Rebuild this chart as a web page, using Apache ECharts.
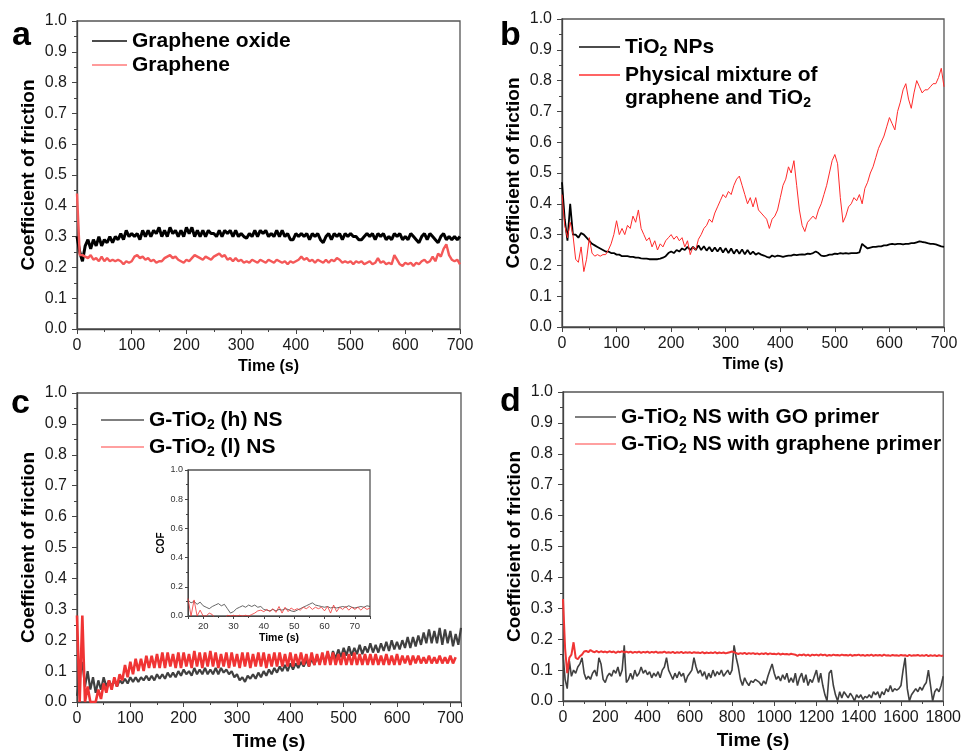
<!DOCTYPE html>
<html>
<head>
<meta charset="utf-8">
<script src="https://cdn.jsdelivr.net/npm/echarts@6/dist/echarts.min.js"></script>
<style>
html, body { margin: 0; padding: 0; background: #fff; }
#chart { width: 964px; height: 753px; }
</style>
</head>
<body>
<div id="chart"></div>
<script>
// panel a: one reading every 5 s, 0-700 s
const stepA = 5;
const grapheneOxideA = [
  0.30, 0.25, 0.22, 0.27, 0.29, 0.26, 0.29, 0.27, 0.30, 0.27,
  0.29, 0.28, 0.30, 0.28, 0.30, 0.29, 0.31, 0.29, 0.32, 0.30,
  0.31, 0.30, 0.31, 0.29, 0.32, 0.30, 0.32, 0.30, 0.32, 0.31,
  0.33, 0.30, 0.32, 0.30, 0.33, 0.31, 0.32, 0.30, 0.32, 0.30,
  0.33, 0.31, 0.33, 0.30, 0.32, 0.30, 0.32, 0.30, 0.32, 0.31,
  0.31, 0.30, 0.32, 0.30, 0.32, 0.31, 0.32, 0.30, 0.32, 0.30,
  0.31, 0.30, 0.295, 0.31, 0.30, 0.32, 0.30, 0.32, 0.31, 0.32,
  0.30, 0.31, 0.30, 0.32, 0.30, 0.32, 0.30, 0.31, 0.29, 0.29,
  0.31, 0.30, 0.31, 0.30, 0.31, 0.29, 0.31, 0.30, 0.31, 0.29,
  0.28, 0.30, 0.31, 0.29, 0.31, 0.30, 0.31, 0.29, 0.31, 0.30,
  0.31, 0.30, 0.30, 0.29, 0.29, 0.30, 0.31, 0.30, 0.31, 0.29,
  0.31, 0.30, 0.31, 0.29, 0.30, 0.29, 0.31, 0.30, 0.31, 0.29,
  0.30, 0.29, 0.31, 0.30, 0.29, 0.28, 0.30, 0.31, 0.29, 0.31,
  0.30, 0.29, 0.28, 0.30, 0.31, 0.29, 0.30, 0.29, 0.30, 0.29,
  0.30
];
const grapheneA = [
  0.44, 0.24, 0.24, 0.235, 0.23, 0.24, 0.225, 0.23, 0.22, 0.235,
  0.22, 0.23, 0.22, 0.225, 0.22, 0.225, 0.22, 0.21, 0.22, 0.215,
  0.22, 0.235, 0.24, 0.23, 0.235, 0.225, 0.23, 0.22, 0.225, 0.215,
  0.22, 0.22, 0.23, 0.235, 0.24, 0.23, 0.235, 0.225, 0.22, 0.215,
  0.225, 0.22, 0.23, 0.24, 0.235, 0.23, 0.225, 0.235, 0.23, 0.225,
  0.235, 0.24, 0.245, 0.235, 0.24, 0.225, 0.23, 0.22, 0.23, 0.22,
  0.225, 0.215, 0.22, 0.215, 0.225, 0.22, 0.215, 0.225, 0.22, 0.215,
  0.225, 0.22, 0.215, 0.225, 0.22, 0.215, 0.22, 0.21, 0.22, 0.215,
  0.22, 0.225, 0.235, 0.225, 0.23, 0.22, 0.225, 0.215, 0.225, 0.22,
  0.215, 0.225, 0.215, 0.225, 0.22, 0.23, 0.225, 0.215, 0.22, 0.215,
  0.22, 0.21, 0.22, 0.215, 0.22, 0.21, 0.215, 0.22, 0.21, 0.215,
  0.23, 0.215, 0.22, 0.21, 0.215, 0.21, 0.24, 0.225, 0.21, 0.205,
  0.215, 0.21, 0.215, 0.205, 0.215, 0.21, 0.22, 0.225, 0.215, 0.22,
  0.235, 0.22, 0.245, 0.235, 0.26, 0.275, 0.24, 0.225, 0.22, 0.225,
  0.21
];

// panel b: every 5 s, 0-700 s
const stepB = 5;
const tio2B = [
  0.47, 0.35, 0.28, 0.40, 0.30, 0.30, 0.29, 0.305, 0.30, 0.29,
  0.28, 0.27, 0.265, 0.26, 0.255, 0.25, 0.245, 0.245, 0.24, 0.24,
  0.235, 0.235, 0.23, 0.23, 0.23, 0.228, 0.228, 0.225, 0.225, 0.223,
  0.222, 0.222, 0.22, 0.22, 0.22, 0.22, 0.222, 0.225, 0.23, 0.24,
  0.245, 0.24, 0.25, 0.245, 0.255, 0.25, 0.26, 0.25, 0.26, 0.25,
  0.265, 0.25, 0.262, 0.248, 0.26, 0.245, 0.258, 0.245, 0.258, 0.242,
  0.256, 0.24, 0.255, 0.238, 0.252, 0.238, 0.252, 0.236, 0.25, 0.236,
  0.245, 0.235, 0.24, 0.235, 0.232, 0.228, 0.225, 0.232, 0.228, 0.232,
  0.23, 0.228, 0.23, 0.232, 0.232, 0.235, 0.233, 0.235, 0.236, 0.235,
  0.238, 0.237, 0.24, 0.245, 0.24, 0.232, 0.23, 0.232, 0.235, 0.235,
  0.238, 0.237, 0.24, 0.238, 0.24, 0.238, 0.24, 0.24, 0.24, 0.242,
  0.27, 0.262, 0.255, 0.258, 0.26, 0.26, 0.262, 0.262, 0.265, 0.265,
  0.268, 0.27, 0.268, 0.27, 0.27, 0.268, 0.27, 0.27, 0.272, 0.272,
  0.275, 0.278, 0.276, 0.275, 0.272, 0.27, 0.27, 0.268, 0.265, 0.262,
  0.26
];
const mixtureB = [
  0.43, 0.33, 0.29, 0.34, 0.30, 0.22, 0.21, 0.26, 0.18, 0.22,
  0.29, 0.24, 0.23, 0.235, 0.23, 0.235, 0.235, 0.25, 0.27, 0.30,
  0.345, 0.30, 0.32, 0.30, 0.33, 0.32, 0.36, 0.34, 0.38, 0.32,
  0.30, 0.28, 0.29, 0.26, 0.28, 0.25, 0.27, 0.26, 0.28, 0.29,
  0.30, 0.285, 0.295, 0.28, 0.29, 0.26, 0.28, 0.235, 0.26, 0.25,
  0.285, 0.30, 0.32, 0.33, 0.35, 0.34, 0.37, 0.39, 0.41, 0.43,
  0.42, 0.44, 0.43, 0.46, 0.48, 0.49, 0.46, 0.43, 0.40, 0.42,
  0.39, 0.42, 0.38, 0.37, 0.36, 0.35, 0.32, 0.35, 0.36, 0.38,
  0.42, 0.46, 0.48, 0.52, 0.50, 0.54, 0.46, 0.38, 0.33, 0.31,
  0.34, 0.35, 0.36, 0.35, 0.38, 0.40, 0.43, 0.46, 0.50, 0.54,
  0.56, 0.53, 0.42, 0.34, 0.36, 0.39, 0.40, 0.42, 0.41, 0.43,
  0.40, 0.45, 0.47, 0.50, 0.52, 0.55, 0.58, 0.60, 0.62, 0.65,
  0.68, 0.66, 0.64, 0.70, 0.73, 0.77, 0.79, 0.74, 0.71, 0.76,
  0.80, 0.78, 0.76, 0.77, 0.77, 0.78, 0.79, 0.79, 0.81, 0.84,
  0.78
];

// panel c: every 5 s, 0-720 s
const stepC = 5;
const highC = [
  0.02, 0.08, 0.13, 0.05, 0.10, 0.04, 0.08, 0.03, 0.07, 0.04,
  0.08, 0.05, 0.07, 0.05, 0.07, 0.05, 0.07, 0.06, 0.075, 0.06,
  0.08, 0.065, 0.08, 0.065, 0.08, 0.07, 0.085, 0.07, 0.085, 0.07,
  0.09, 0.075, 0.09, 0.075, 0.095, 0.08, 0.095, 0.08, 0.10, 0.085,
  0.105, 0.09, 0.10, 0.085, 0.11, 0.09, 0.105, 0.09, 0.11, 0.09,
  0.105, 0.09, 0.11, 0.09, 0.11, 0.095, 0.105, 0.09, 0.10, 0.08,
  0.09, 0.07, 0.08, 0.065, 0.085, 0.075, 0.09, 0.075, 0.095, 0.08,
  0.10, 0.085, 0.105, 0.09, 0.11, 0.095, 0.115, 0.10, 0.12, 0.10,
  0.125, 0.105, 0.125, 0.11, 0.13, 0.115, 0.135, 0.115, 0.14, 0.12,
  0.145, 0.125, 0.15, 0.13, 0.16, 0.13, 0.165, 0.14, 0.17, 0.145,
  0.175, 0.15, 0.18, 0.15, 0.175, 0.155, 0.185, 0.155, 0.18, 0.16,
  0.19, 0.16, 0.185, 0.16, 0.19, 0.165, 0.195, 0.165, 0.20, 0.17,
  0.195, 0.17, 0.20, 0.175, 0.21, 0.175, 0.21, 0.18, 0.215, 0.185,
  0.225, 0.19, 0.235, 0.19, 0.23, 0.19, 0.24, 0.185, 0.235, 0.19,
  0.23, 0.18, 0.22, 0.185, 0.24
];
const lowC = [
  0.28, 0.0, 0.28, 0.0, 0.05, 0.0, 0.0, 0.0, 0.04, 0.01,
  0.06, 0.03, 0.07, 0.04, 0.08, 0.05, 0.09, 0.07, 0.12, 0.08,
  0.13, 0.09, 0.14, 0.10, 0.14, 0.10, 0.15, 0.11, 0.15, 0.11,
  0.155, 0.11, 0.16, 0.11, 0.16, 0.115, 0.155, 0.11, 0.16, 0.11,
  0.16, 0.115, 0.155, 0.11, 0.165, 0.115, 0.16, 0.11, 0.16, 0.115,
  0.165, 0.115, 0.16, 0.11, 0.155, 0.115, 0.16, 0.11, 0.16, 0.115,
  0.155, 0.11, 0.16, 0.115, 0.16, 0.11, 0.155, 0.115, 0.16, 0.115,
  0.16, 0.11, 0.155, 0.115, 0.16, 0.115, 0.16, 0.115, 0.155, 0.115,
  0.16, 0.115, 0.155, 0.12, 0.16, 0.12, 0.155, 0.115, 0.16, 0.12,
  0.155, 0.12, 0.16, 0.12, 0.165, 0.12, 0.16, 0.12, 0.155, 0.12,
  0.16, 0.12, 0.155, 0.12, 0.16, 0.12, 0.155, 0.12, 0.155, 0.12,
  0.155, 0.12, 0.155, 0.12, 0.15, 0.12, 0.155, 0.12, 0.15, 0.12,
  0.155, 0.12, 0.15, 0.125, 0.15, 0.12, 0.15, 0.125, 0.15, 0.125,
  0.145, 0.125, 0.15, 0.125, 0.145, 0.125, 0.15, 0.125, 0.145, 0.125,
  0.15, 0.125, 0.145
];

// inset of c: every 1 s, 15-75 s
const insetStart = 15;
const highInset = [
  0.11, 0.09, 0.10, 0.08, 0.095, 0.07, 0.06, 0.05, 0.065, 0.075,
  0.085, 0.07, 0.08, 0.05, 0.02, 0.03, 0.05, 0.06, 0.07, 0.06,
  0.075, 0.065, 0.075, 0.06, 0.065, 0.045, 0.04, 0.035, 0.045, 0.035,
  0.045, 0.04, 0.05, 0.045, 0.035, 0.03, 0.04, 0.05, 0.06, 0.07,
  0.08, 0.09, 0.075, 0.07, 0.065, 0.06, 0.065, 0.055, 0.06, 0.055,
  0.06, 0.065, 0.06, 0.07, 0.06, 0.055, 0.06, 0.065, 0.06, 0.07,
  0.065
];
const lowInset = [
  0.12, 0.0, 0.11, 0.0, 0.04, 0.0, 0.0, 0.02, 0.01, -0.02,
  -0.02, -0.015, -0.02, 0.005, 0.0, 0.005, 0.0, 0.005, 0.0, 0.005,
  0.0, 0.01, 0.02, 0.035, 0.04, 0.03, 0.045, 0.03, 0.05, 0.025,
  0.065, 0.02, 0.06, 0.03, 0.055, 0.04, 0.05, 0.04, 0.06, 0.05,
  0.065, 0.045, 0.06, 0.05, 0.06, 0.035, 0.065, 0.02, 0.075, 0.03,
  0.06, 0.045, 0.065, 0.04, 0.06, 0.045, 0.06, 0.04, 0.06, 0.045,
  0.055
];

// panel d: every 10 s, 0-1800 s
const stepD = 10;
const goPrimerD = [
  0.15, 0.07, 0.04, 0.13, 0.08, 0.10, 0.09, 0.11, 0.12, 0.14,
  0.09, 0.07, 0.08, 0.07, 0.09, 0.10, 0.08, 0.14, 0.12, 0.07,
  0.06, 0.08, 0.09, 0.08, 0.10, 0.09, 0.11, 0.08, 0.10, 0.18,
  0.06, 0.07, 0.09, 0.07, 0.10, 0.08, 0.09, 0.11, 0.09, 0.10,
  0.085, 0.095, 0.075, 0.09, 0.08, 0.095, 0.075, 0.10, 0.11, 0.14,
  0.10, 0.085, 0.07, 0.09, 0.075, 0.095, 0.08, 0.09, 0.06, 0.08,
  0.09, 0.10, 0.14, 0.11, 0.09, 0.10, 0.08, 0.095, 0.07, 0.09,
  0.075, 0.10, 0.08, 0.095, 0.085, 0.10, 0.08, 0.09, 0.10, 0.085,
  0.10, 0.18, 0.14, 0.11, 0.07, 0.05, 0.075, 0.06, 0.05, 0.065,
  0.06, 0.07, 0.065, 0.06, 0.05, 0.065, 0.055, 0.08, 0.10, 0.12,
  0.09, 0.07, 0.08, 0.065, 0.085, 0.07, 0.09, 0.06, 0.075, 0.06,
  0.09, 0.05, 0.075, 0.09, 0.06, 0.085, 0.05, 0.07, 0.06, 0.08,
  0.10, 0.06, 0.09, 0.05, 0.02, 0.0, 0.09, 0.10, 0.05, 0.02,
  0.0, 0.03, 0.01, 0.03, 0.02, 0.01, 0.025, 0.015, 0.0, 0.02,
  0.01, 0.02, 0.005, 0.015, 0.01, 0.02, 0.01, 0.03, 0.02, 0.03,
  0.01, 0.03, 0.02, 0.04, 0.03, 0.05, 0.03, 0.04, 0.035, 0.04,
  0.05, 0.10, 0.14, 0.04, 0.0, 0.02, 0.03, 0.04, 0.03, 0.045,
  0.035, 0.05, 0.06, 0.10, 0.05, 0.0, 0.03, 0.04, 0.03, 0.05,
  0.08
];
const graphenePrimerD = [
  0.33, 0.17, 0.09, 0.14, 0.15, 0.19, 0.14, 0.135, 0.145, 0.15,
  0.16, 0.162, 0.158, 0.165, 0.16, 0.158, 0.162, 0.157, 0.161, 0.158,
  0.16, 0.157, 0.161, 0.158, 0.16, 0.156, 0.16, 0.158, 0.161, 0.157,
  0.16, 0.157, 0.16, 0.156, 0.159, 0.157, 0.16, 0.156, 0.159, 0.157,
  0.16, 0.156, 0.159, 0.157, 0.16, 0.156, 0.158, 0.157, 0.16, 0.156,
  0.158, 0.156, 0.159, 0.155, 0.158, 0.156, 0.159, 0.155, 0.158, 0.156,
  0.158, 0.155, 0.158, 0.156, 0.157, 0.155, 0.158, 0.154, 0.157, 0.155,
  0.157, 0.155, 0.158, 0.154, 0.157, 0.155, 0.157, 0.154, 0.156, 0.158,
  0.16, 0.158, 0.155, 0.152, 0.155, 0.153, 0.156, 0.152, 0.155, 0.153,
  0.155, 0.152, 0.154, 0.151, 0.154, 0.152, 0.155, 0.151, 0.154, 0.152,
  0.153, 0.151, 0.154, 0.15, 0.153, 0.151, 0.152, 0.15, 0.153, 0.151,
  0.15, 0.146, 0.15, 0.148, 0.151, 0.147, 0.15, 0.146, 0.15, 0.148,
  0.15, 0.147, 0.151, 0.148, 0.15, 0.146, 0.149, 0.147, 0.15, 0.148,
  0.149, 0.147, 0.15, 0.148, 0.149, 0.147, 0.15, 0.146, 0.149, 0.148,
  0.15, 0.147, 0.149, 0.146, 0.149, 0.147, 0.15, 0.146, 0.149, 0.147,
  0.149, 0.146, 0.15, 0.147, 0.148, 0.146, 0.149, 0.147, 0.148, 0.146,
  0.149, 0.147, 0.148, 0.145, 0.149, 0.146, 0.148, 0.147, 0.149, 0.146,
  0.148, 0.146, 0.149, 0.145, 0.148, 0.146, 0.148, 0.145, 0.148, 0.146,
  0.147
];

const font = 'Liberation Sans';
const red = '#f03434';
const dark = '#404040';
const axisColor = '#444';

const pairs = (vals, start, step) => vals.map((v, i) => [start + i * step, v]);

const grids = [
  {left: 77, top: 21, width: 383, height: 308},
  {left: 562, top: 19, width: 382, height: 308},
  {left: 77, top: 393, width: 384, height: 309},
  {left: 563, top: 392, width: 383, height: 309},
  {left: 188, top: 470, width: 182, height: 146, backgroundColor: '#fff'}
].map(g => Object.assign({show: true, borderColor: '#555', borderWidth: 1.3, containLabel: false}, g));

function mainY(i) {
  return {
    type: 'value', gridIndex: i, min: 0, max: 1, interval: 0.1,
    name: 'Coefficient of friction', nameLocation: 'middle', nameGap: 39,
    nameTextStyle: {fontFamily: font, fontSize: 19, fontWeight: 'bold', color: '#000'},
    axisLine: {show: true, lineStyle: {color: axisColor, width: 1.3}},
    axisTick: {show: true, length: 5, lineStyle: {color: axisColor}},
    minorTick: {show: true, splitNumber: 2, length: 3, lineStyle: {color: axisColor}},
    splitLine: {show: false},
    axisLabel: {fontFamily: font, fontSize: 16, color: '#1a1a1a', margin: 10, formatter: v => v.toFixed(1)}
  };
}

function mainX(i, max, interval, nameSize) {
  return {
    type: 'value', gridIndex: i, min: 0, max: max, interval: interval,
    name: 'Time (s)', nameLocation: 'middle', nameGap: 30,
    nameTextStyle: {fontFamily: font, fontSize: nameSize, fontWeight: 'bold', color: '#000'},
    axisLine: {show: true, onZero: false, lineStyle: {color: axisColor, width: 1.3}},
    axisTick: {show: true, length: 5, lineStyle: {color: axisColor}},
    minorTick: {show: true, splitNumber: 2, length: 3, lineStyle: {color: axisColor}},
    splitLine: {show: false},
    axisLabel: {
      fontFamily: font, fontSize: 16, color: '#1a1a1a', margin: 9,
      showMaxLabel: max % interval === 0, formatter: v => String(v)
    }
  };
}

const insetY = {
  type: 'value', gridIndex: 4, min: 0, max: 1, interval: 0.2,
  name: 'COF', nameLocation: 'middle', nameGap: 20,
  nameTextStyle: {fontFamily: font, fontSize: 10, fontWeight: 'bold', color: '#000'},
  axisLine: {show: true, lineStyle: {color: axisColor, width: 1}},
  axisTick: {show: true, length: 3, lineStyle: {color: axisColor}},
  minorTick: {show: true, splitNumber: 2, length: 2, lineStyle: {color: axisColor}},
  splitLine: {show: false},
  axisLabel: {fontFamily: font, fontSize: 9, color: '#333', margin: 5, formatter: v => v.toFixed(1)}
};
const insetX = {
  type: 'value', gridIndex: 4, min: 15, max: 75, splitNumber: 6,
  name: 'Time (s)', nameLocation: 'middle', nameGap: 17,
  nameTextStyle: {fontFamily: font, fontSize: 10.5, fontWeight: 'bold', color: '#000'},
  axisLine: {show: true, onZero: false, lineStyle: {color: axisColor, width: 1}},
  axisTick: {show: true, length: 3, lineStyle: {color: axisColor}},
  minorTick: {show: true, splitNumber: 2, length: 2, lineStyle: {color: axisColor}},
  splitLine: {show: false},
  axisLabel: {fontFamily: font, fontSize: 9.5, color: '#333', margin: 5, showMinLabel: false, showMaxLabel: false}
};

function line(name, i, data, color, width) {
  return {
    name: name, type: 'line', xAxisIndex: i, yAxisIndex: i, data: data,
    symbol: 'none', showSymbol: false, clip: true, silent: true, animation: false,
    lineStyle: {color: color, width: width}, itemStyle: {color: color}
  };
}

const sub = {fontFamily: font, fontSize: 14, fontWeight: 'bold', color: '#000', verticalAlign: 'bottom', lineHeight: 10};
function legend(left, top, names, width, gap, colors) {
  return {
    orient: 'vertical', left: left, top: top, padding: 0,
    data: names.map((n, k) => ({name: n, itemStyle: {color: colors[k]}})),
    icon: 'rect', itemWidth: width, itemHeight: 1.5, itemGap: gap, selectedMode: false,
    formatter: n => n.replace('TiO2', 'TiO{s|2}').replace(' graphene and TiO{s|2}', ''),
    textStyle: {fontFamily: font, fontSize: 21, fontWeight: 'bold', color: '#000', lineHeight: 24, rich: {s: sub}}
  };
}

const letter = (text, left, top) => ({
  type: 'text', left: left, top: top,
  style: {text: text, fontFamily: font, fontSize: 34, fontWeight: 'bold', fill: '#000'}
});

const chart = echarts.init(document.getElementById('chart'), null, {renderer: 'canvas'});
chart.setOption({
  animation: false,
  backgroundColor: '#fff',
  grid: grids,
  xAxis: [mainX(0, 700, 100, 16), mainX(1, 700, 100, 16), mainX(2, 720, 100, 19), mainX(3, 1800, 200, 19), insetX],
  yAxis: [mainY(0), mainY(1), mainY(2), mainY(3), insetY],
  legend: [
    legend(92, 29, ['Graphene oxide', 'Graphene'], 35, 0, ['#111', '#ff7a7a']),
    legend(579, 35, ['TiO2 NPs', 'Physical mixture of graphene and TiO2'], 41, 4, ['#111', '#ff3030']),
    legend(101, 408, ['G-TiO2 (h) NS', 'G-TiO2 (l) NS'], 43, 3, ['#555', '#ff8080']),
    legend(575, 405, ['G-TiO2 NS with GO primer', 'G-TiO2 NS with graphene primer'], 41, 3, ['#555', '#ff8080'])
  ],
  graphic: [
    letter('a', 12, 19), letter('b', 500, 19), letter('c', 11, 387), letter('d', 500, 385),
    {
      type: 'text', left: 625, top: 86,
      style: {
        text: 'graphene and TiO{s|2}', fontFamily: font, fontSize: 21, fontWeight: 'bold',
        fill: '#000', lineHeight: 24, rich: {s: sub}
      }
    }
  ],
  series: [
    line('Graphene oxide', 0, pairs(grapheneOxideA, 0, stepA), '#000', 3),
    line('Graphene', 0, pairs(grapheneA, 0, stepA), '#f45858', 2.4),
    line('TiO2 NPs', 1, pairs(tio2B, 0, stepB), '#000', 1.8),
    line('Physical mixture of graphene and TiO2', 1, pairs(mixtureB, 0, stepB), '#ff2a2a', 1),
    line('G-TiO2 (h) NS', 2, pairs(highC, 0, stepC), dark, 2.2),
    line('G-TiO2 (l) NS', 2, pairs(lowC, 0, stepC), red, 2.6),
    line('G-TiO2 NS with GO primer', 3, pairs(goPrimerD, 0, stepD), dark, 1.6),
    line('G-TiO2 NS with graphene primer', 3, pairs(graphenePrimerD, 0, stepD), red, 2),
    line('inset high', 4, pairs(highInset, insetStart, 1), dark, 0.8),
    line('inset low', 4, pairs(lowInset, insetStart, 1), red, 0.8)
  ]
});
</script>
</body>
</html>
